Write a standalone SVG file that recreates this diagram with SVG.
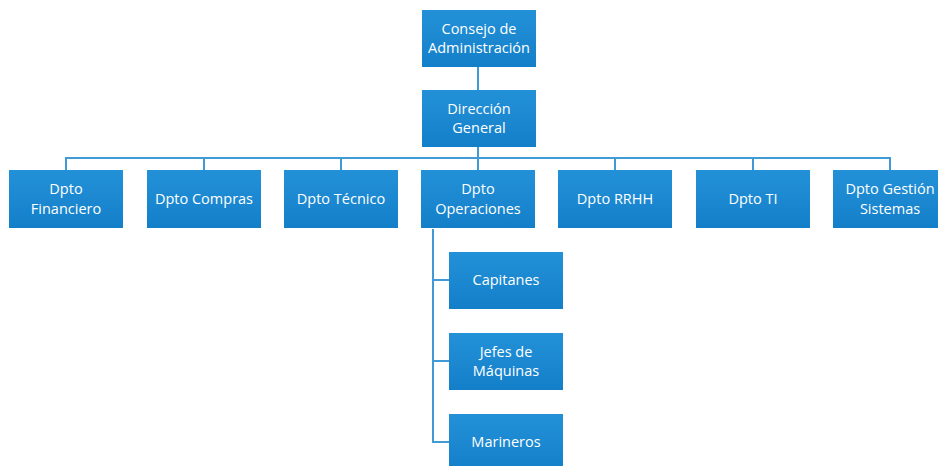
<svg xmlns="http://www.w3.org/2000/svg" width="938" height="466" viewBox="0 0 938 466">
<defs>
<linearGradient id="g" x1="0" y1="0" x2="0" y2="1">
<stop offset="0" stop-color="#2391d8"/>
<stop offset="1" stop-color="#137fc9"/>
</linearGradient>
<style>
.b{fill:url(#g);}
.t{fill:#fff;font-family:"Open Sans","Liberation Sans",sans-serif;font-size:14.5px;text-anchor:middle;}
.c{fill:none;stroke:#3f9ad6;stroke-width:2;}
</style>
</defs>
<rect width="938" height="466" fill="#fff"/>
<g id="connectors" class="c">
<path d="M478,67V90"/>
<path d="M478,147V158"/>
<path d="M66,170V158H890V170"/>
<path d="M204,158V170M341,158V170M478,158V170M615,158V170M753,158V170"/>
<path d="M433,229V442H449M433,280H449M433,361H449"/>
</g>
<g id="consejo"><rect class="b" x="422" y="10" width="114" height="57"/><text class="t" x="479" y="34">Consejo de</text><text class="t" x="479" y="53">Administración</text></g>
<g id="direccion"><rect class="b" x="422" y="90" width="114" height="57"/><text class="t" x="479" y="114">Dirección</text><text class="t" x="479" y="133">General</text></g>
<g id="financiero"><rect class="b" x="9" y="170" width="114" height="58"/><text class="t" x="66" y="194">Dpto</text><text class="t" x="66" y="214">Financiero</text></g>
<g id="compras"><rect class="b" x="147" y="170" width="114" height="58"/><text class="t" x="204" y="204">Dpto Compras</text></g>
<g id="tecnico"><rect class="b" x="284" y="170" width="114" height="58"/><text class="t" x="341" y="204">Dpto Técnico</text></g>
<g id="operaciones"><rect class="b" x="421" y="170" width="114" height="58"/><text class="t" x="478" y="194">Dpto</text><text class="t" x="478" y="214">Operaciones</text></g>
<g id="rrhh"><rect class="b" x="558" y="170" width="114" height="58"/><text class="t" x="615" y="204">Dpto RRHH</text></g>
<g id="ti"><rect class="b" x="696" y="170" width="114" height="58"/><text class="t" x="753" y="204">Dpto TI</text></g>
<g id="gestion"><rect class="b" x="833" y="170" width="114" height="58"/><text class="t" x="890" y="194">Dpto Gestión</text><text class="t" x="890" y="214">Sistemas</text></g>
<g id="capitanes"><rect class="b" x="449" y="252" width="114" height="57"/><text class="t" x="506" y="285">Capitanes</text></g>
<g id="jefes"><rect class="b" x="449" y="333" width="114" height="57"/><text class="t" x="506" y="357">Jefes de</text><text class="t" x="506" y="376">Máquinas</text></g>
<g id="marineros"><rect class="b" x="449" y="414" width="114" height="57"/><text class="t" x="506" y="447">Marineros</text></g>
</svg>
